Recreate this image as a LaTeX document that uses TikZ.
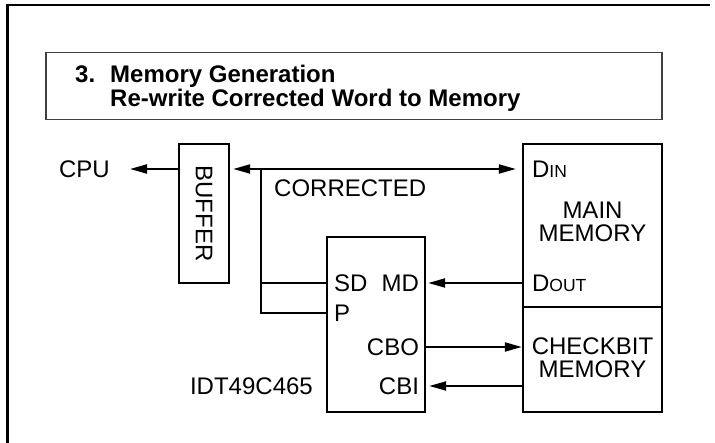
\documentclass[tikz,border=0pt]{standalone}
\usepackage{fontspec}
\setmainfont{Liberation Sans}
\usetikzlibrary{positioning, arrows.meta, calc}

\newcommand{\lowcaps}[1]{{\fontsize{17.5}{17.5}\selectfont #1}}

\begin{document}
\begin{tikzpicture}[
    x=1pt, y=-1pt,
    >={Triangle[length=17pt, width=9pt]},
    font=\fontsize{24}{23}\selectfont,
    box/.style    ={draw, line width=2.3pt, inner sep=0pt},
    heading/.style={draw=black!75, line width=1.3pt, inner sep=0pt},
    lbl/.style    ={inner sep=0pt},
    wire/.style   ={line width=2pt},
    arr/.style    ={->, line width=2pt},
    frame/.style  ={line width=2.7pt},
]
\useasboundingbox (0,0) rectangle (715,443);

% ---- Page frame and heading ----
\draw[frame] (7.3,443) |- (710,5);
\node[heading, minimum width=616pt, minimum height=67pt] (headbox) at (354,86.3) {};
\node[lbl, anchor=base west, font=\fontsize{24}{22}\selectfont\bfseries] (head) at (75,83)
  {\begin{tabular}[t]{@{}l@{\hspace{15pt}}l@{}}3. & Memory Generation\\ & Re-write Corrected Word to Memory\end{tabular}};

% ---- Blocks ----
\node[box, minimum width=50pt, minimum height=139pt,
      label={[lbl, rotate=-90]center:BUFFER}] (buffer) at (204,213.5) {};
\node[box, minimum width=98pt,  minimum height=175pt] (edc)     at (376,324.5) {};
\node[box, minimum width=139pt, minimum height=163pt] (mainmem) at (592.5,225.5) {};
\node[box, minimum width=139pt, minimum height=105pt] (chkmem)  at (592.5,359.5) {};

% ---- Signal rows ----
\coordinate (rowbus) at (0,169);
\coordinate (rowmd)  at (0,283);
\coordinate (rowp)   at (0,313);
\coordinate (rowcbo) at (0,347);
\coordinate (rowcbi) at (0,386);
\coordinate (tap)    at (261,169);

% ---- Labels ----
\node[lbl, anchor=east] (cpu)    at (110,169) {CPU};
\node[lbl, anchor=west] (corr)   at (274,188.5) {CORRECTED};
\node[lbl, anchor=east] (partno) at (313,386) {IDT49C465};
\node[lbl, anchor=west] (sd)  at ($(edc.west |- rowmd)+(8,0)$) {SD};
\node[lbl, anchor=west] (p)   at ($(edc.west |- rowp)+(8,0)$) {P};
\node[lbl, anchor=east] (md)  at ($(edc.east |- rowmd)+(-7,0)$) {MD};
\node[lbl, anchor=east] (cbo) at ($(edc.east |- rowcbo)+(-7,0)$) {CBO};
\node[lbl, anchor=east] (cbi) at ($(edc.east |- rowcbi)+(-7,0)$) {CBI};
\node[lbl, anchor=west] (din)  at ($(mainmem.west |- rowbus)+(10,0)$) {D\lowcaps{IN}};
\node[lbl, anchor=west] (dout) at ($(mainmem.west |- rowmd)+(10,0)$) {D\lowcaps{OUT}};
\node[lbl, align=center] (mmtxt) at (592.5,222) {MAIN\\MEMORY};
\node[lbl, align=center] (cbtxt) at (592.5,357.5) {CHECKBIT\\MEMORY};

% ---- Connectors ----
\draw[arr, shorten >=20pt] (buffer.west |- rowbus) -- (cpu.east);
\draw[arr, <->, shorten <=3pt, shorten >=6pt] (buffer.east |- rowbus) -- (mainmem.west |- rowbus);
\draw[wire] (tap) |- (edc.west |- rowp);
\draw[wire] (tap |- rowmd) -- (edc.west |- rowmd);
\draw[arr, shorten >=2pt] (mainmem.west |- rowmd) -- (edc.east |- rowmd);
\draw[arr] (edc.east |- rowcbo) -- (chkmem.west |- rowcbo);
\draw[arr, shorten >=3pt] (chkmem.west |- rowcbi) -- (edc.east |- rowcbi);

\end{tikzpicture}
\end{document}
